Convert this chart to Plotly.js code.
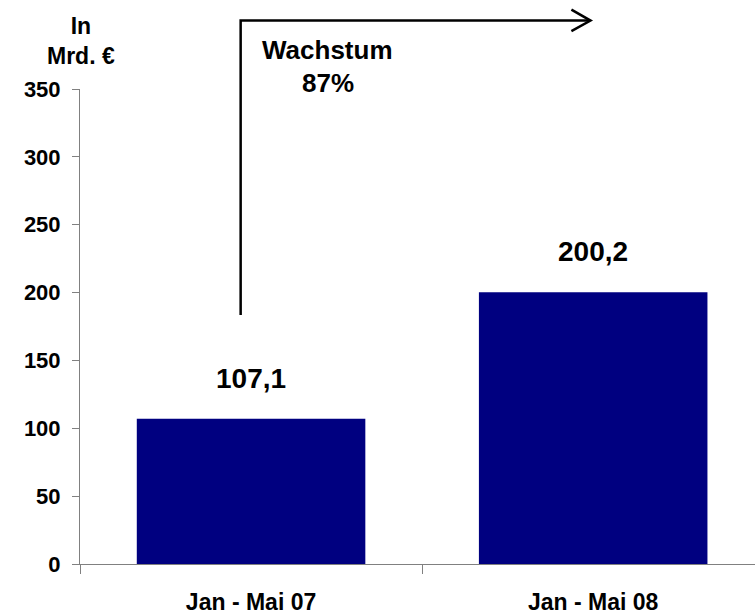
<!DOCTYPE html>
<html>
<head>
<meta charset="utf-8">
<script src="https://cdn.plot.ly/plotly-3.0.1.min.js"></script>
<style>html,body{margin:0;padding:0;background:#fff;}#chart{width:755px;height:614px;}</style>
</head>
<body>
<div id="chart"></div>
<script>
const categories = ["Jan - Mai 07", "Jan - Mai 08"];
const values = [107.1, 200.2];
const valueLabels = ["107,1", "200,2"];
const yTicks = [0, 50, 100, 150, 200, 250, 300, 350];
const unitLabel = "In<br>Mrd. €";
const growthLabel = "Wachstum";
const growthValue = "87%";

const FONT = "Arial, 'Liberation Sans', sans-serif";

const trace = {
  type: "bar",
  x: categories,
  y: values,
  width: 0.668,
  marker: {color: "#000080", line: {width: 0}},
  hoverinfo: "skip"
};

const annotations = valueLabels.map((t, i) => ({
  x: categories[i], y: values[i], xref: "x", yref: "y",
  text: "<b>" + t + "</b>", showarrow: false,
  yanchor: "bottom", yshift: 23,
  font: {family: FONT, size: 28, color: "#000"}
}));
annotations.push({
  x: 0.0015, y: 1.102, xref: "paper", yref: "paper",
  text: "<b>" + unitLabel + "</b>", showarrow: false,
  xanchor: "center", yanchor: "middle",
  font: {family: FONT, size: 23, color: "#000"}
});
annotations.push({
  x: 0.367, y: 1.082, xref: "paper", yref: "paper",
  text: "<b>" + growthLabel + "</b>", showarrow: false,
  xanchor: "center", yanchor: "middle",
  font: {family: FONT, size: 26, color: "#000"}
});
annotations.push({
  x: 0.367, y: 1.0126, xref: "paper", yref: "paper",
  text: "<b>" + growthValue + "</b>", showarrow: false,
  xanchor: "center", yanchor: "middle",
  font: {family: FONT, size: 26, color: "#000"}
});

const shapes = [
  {type: "path", xref: "paper", yref: "paper",
   path: "M 0.238 0.524 L 0.238 1.144 L 0.7556 1.144",
   line: {color: "#000", width: 2.5}},
  {type: "path", xref: "paper", yref: "paper",
   path: "M 0.728 1.167 L 0.7563 1.144 L 0.728 1.122",
   line: {color: "#000", width: 2.5}}
];

const layout = {
  width: 755, height: 614,
  margin: {l: 80, r: 0, t: 89, b: 50},
  paper_bgcolor: "#fff", plot_bgcolor: "#fff",
  showlegend: false,
  font: {family: FONT, size: 22, color: "#000"},
  xaxis: {
    type: "category",
    range: [-0.5, 1.473],
    tickmode: "array", tickvals: categories, ticktext: categories.map(c => "<b>" + c + "</b>"),
    tickson: "boundaries",
    ticks: "outside", ticklen: 9, tickcolor: "#808080", tickwidth: 1,
    showline: true, linecolor: "#808080", linewidth: 1,
    showgrid: false, zeroline: false,
    tickfont: {family: FONT, size: 23, color: "#000"},
    ticklabelstandoff: 17,
    fixedrange: true
  },
  yaxis: {
    range: [0, 350],
    tickmode: "array", tickvals: yTicks, ticktext: yTicks.map(v => "<b>" + v + "</b>"),
    ticks: "outside", ticklen: 7, tickcolor: "#808080", tickwidth: 1,
    showline: true, linecolor: "#808080", linewidth: 1,
    showgrid: false, zeroline: false,
    tickfont: {family: FONT, size: 22, color: "#000"},
    ticklabelstandoff: 7,
    fixedrange: true
  },
  annotations: annotations,
  shapes: shapes
};

Plotly.newPlot("chart", [trace], layout, {displayModeBar: false, staticPlot: true});
</script>
</body>
</html>
